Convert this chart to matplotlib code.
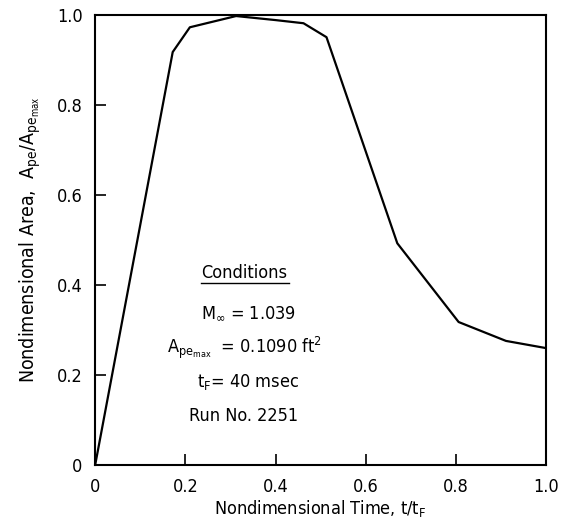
import matplotlib
matplotlib.use("Agg")
import matplotlib.pyplot as plt

# data
t_ratio = [0.0, 0.172, 0.21, 0.3125, 0.40, 0.462, 0.513, 0.67, 0.806, 0.911, 1.0]
area_ratio = [0.0, 0.918, 0.973, 0.998, 0.989, 0.982, 0.951, 0.493, 0.318, 0.276, 0.26]

xticks = [0, 0.2, 0.4, 0.6, 0.8, 1.0]
xticklabels = ["0", "0.2", "0.4", "0.6", "0.8", "1.0"]
yticks = [0, 0.2, 0.4, 0.6, 0.8, 1.0]
yticklabels = ["0", "0.2", "0.4", "0.6", "0.8", "1.0"]

plt.rcParams['font.family'] = ["DejaVu Sans"]
plt.rcParams['font.stretch'] = 'condensed'
plt.rcParams['mathtext.fontset'] = 'custom'
plt.rcParams['mathtext.rm'] = 'DejaVu Sans:stretch=condensed'
plt.rcParams['mathtext.it'] = 'DejaVu Sans:stretch=condensed'
plt.rcParams['mathtext.sf'] = 'DejaVu Sans:stretch=condensed'

fig = plt.figure(figsize=(5.63, 5.22), dpi=100)
ax = fig.add_axes([0.169, 0.109, 0.801, 0.862])

ax.plot(t_ratio, area_ratio, color="black", lw=1.6)

ax.set_xlim(0, 1.0)
ax.set_ylim(0, 1.0)
ax.set_xticks(xticks)
ax.set_xticklabels(xticklabels)
ax.set_yticks(yticks)
ax.set_yticklabels(yticklabels)
ax.tick_params(direction="in", length=8, width=1.2, labelsize=13, colors="black")
ax.tick_params(axis="x", pad=9)
ax.tick_params(axis="y", pad=9)
for s in ax.spines.values():
    s.set_linewidth(1.5)

ax.set_xlabel(r"Nondimensional Time, t/t$_\mathrm{F}$", fontsize=13, labelpad=2)
ax.set_ylabel(r"Nondimensional Area,  A$_\mathrm{pe}$/A$_\mathrm{pe_{max}}$", fontsize=14, labelpad=10)

# conditions block
ax.text(0.33, 0.427, "Conditions", ha="center", va="center", fontsize=13)
ax.plot([0.235, 0.43], [0.405, 0.405], color="black", lw=1.0)
ax.text(0.34, 0.338, r"M$_\mathrm{\infty}$ = 1.039", ha="center", va="center", fontsize=13)
ax.text(0.33, 0.26, r"A$_\mathrm{pe_{max}}$  = 0.1090 ft$^\mathrm{2}$", ha="center", va="center", fontsize=13)
ax.text(0.34, 0.185, r"t$_\mathrm{F}$= 40 msec", ha="center", va="center", fontsize=13)
ax.text(0.33, 0.11, "Run No. 2251", ha="center", va="center", fontsize=13)

fig.savefig("out.png", dpi=100)
